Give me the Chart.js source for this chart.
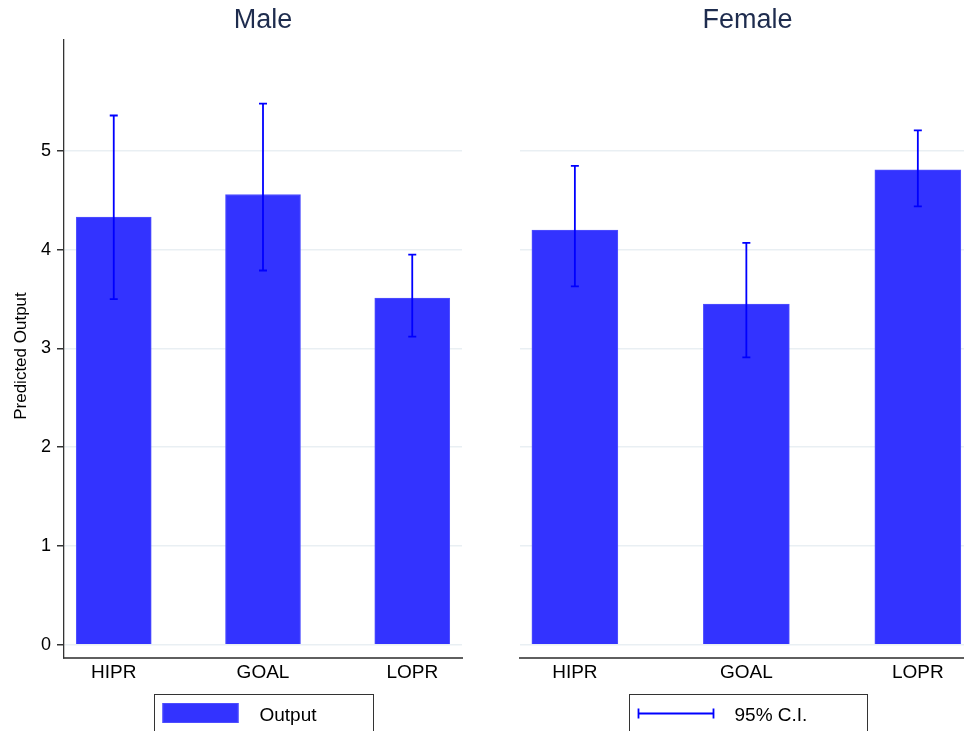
<!DOCTYPE html>
<html>
<head>
<meta charset="utf-8">
<script src="https://cdn.jsdelivr.net/npm/chart.js@4/dist/chart.umd.min.js"></script>
<style>
  html, body { margin: 0; padding: 0; background: #fff; }
  body { width: 964px; height: 731px; overflow: hidden; position: relative; }
  canvas { position: absolute; top: 0; }
  #male { left: 0; }
  #female { left: 490px; }
</style>
</head>
<body>
<canvas id="male" width="490" height="731"></canvas>
<canvas id="female" width="510" height="731"></canvas>
<script>
// Predicted output by condition, with 95% confidence intervals
const categories = ['HIPR', 'GOAL', 'LOPR'];
const maleOutput = [4.33, 4.56, 3.51];
const maleLower  = [3.50, 3.79, 3.12];
const maleUpper  = [5.36, 5.48, 3.95];
const femaleOutput = [4.20, 3.45, 4.81];
const femaleLower  = [3.63, 2.91, 4.44];
const femaleUpper  = [4.85, 4.07, 5.21];
const yTicks = [0, 1, 2, 3, 4, 5];
const yMin = -0.13, yMax = 6.125;

const FONT = "'Liberation Sans', Arial, Helvetica, sans-serif";
const BAR_FILL = '#3333ff';
const CI_COLOR = '#0000ff';
const GRID = '#e9eff3';

// Panel title, y-axis title, error bars and legend box
const panelExtras = {
  id: 'panelExtras',
  afterDatasetsDraw(chart, args, opts) {
    const ctx = chart.ctx;
    const y = chart.scales.y;
    const meta = chart.getDatasetMeta(0);
    ctx.save();
    ctx.strokeStyle = CI_COLOR;
    ctx.lineWidth = 1.8;
    meta.data.forEach((bar, i) => {
      const yl = y.getPixelForValue(opts.lower[i]);
      const yu = y.getPixelForValue(opts.upper[i]);
      const x = bar.x;
      ctx.beginPath();
      ctx.moveTo(x, yl); ctx.lineTo(x, yu);
      ctx.moveTo(x - 4, yl); ctx.lineTo(x + 4, yl);
      ctx.moveTo(x - 4, yu); ctx.lineTo(x + 4, yu);
      ctx.stroke();
    });
    ctx.restore();
  },
  afterDraw(chart, args, opts) {
    const ctx = chart.ctx;
    const area = chart.chartArea;
    const cx = (area.left + area.right) / 2;
    ctx.save();
    // panel title
    ctx.fillStyle = '#1e2c4e';
    ctx.font = '27px ' + FONT;
    ctx.textAlign = 'center';
    ctx.textBaseline = 'alphabetic';
    ctx.fillText(opts.title, cx, 28);

    // y-axis title
    if (opts.yTitle) {
      ctx.save();
      ctx.translate(26, 356);
      ctx.rotate(-Math.PI / 2);
      ctx.fillStyle = '#000';
      ctx.font = '17px ' + FONT;
      ctx.textAlign = 'center';
      ctx.fillText(opts.yTitle, 0, 0);
      ctx.restore();
    }

    // legend box
    const lw = opts.legendWidth;
    const lx = Math.round(cx - lw / 2) + 0.5;
    const ly = 694.5;
    ctx.strokeStyle = '#333';
    ctx.lineWidth = 1;
    ctx.strokeRect(lx, ly, lw, 60);
    ctx.font = '19px ' + FONT;
    ctx.fillStyle = '#000';
    ctx.textAlign = 'left';
    if (opts.legendKind === 'bar') {
      ctx.fillStyle = BAR_FILL;
      ctx.fillRect(lx + 8, 703, 76, 20);
      ctx.strokeStyle = '#4d4dff';
      ctx.strokeRect(lx + 8.5, 703.5, 75, 19);
      ctx.fillStyle = '#000';
      ctx.fillText(opts.legendText, lx + 105, 721);
    } else {
      ctx.strokeStyle = CI_COLOR;
      ctx.lineWidth = 1.8;
      ctx.beginPath();
      ctx.moveTo(lx + 9, 713.5); ctx.lineTo(lx + 84, 713.5);
      ctx.moveTo(lx + 9, 708.5); ctx.lineTo(lx + 9, 718.5);
      ctx.moveTo(lx + 84, 708.5); ctx.lineTo(lx + 84, 718.5);
      ctx.stroke();
      ctx.fillStyle = '#000';
      ctx.fillText(opts.legendText, lx + 105, 721);
    }
    ctx.restore();
  }
};

function makePanel(canvasId, values, lower, upper, cfg) {
  const points = values.map((v, i) => ({ x: i, y: v }));
  return new Chart(document.getElementById(canvasId), {
    type: 'bar',
    data: {
      datasets: [{
        label: cfg.legendText,
        data: points,
        backgroundColor: BAR_FILL,
        borderColor: '#5252ff',
        borderWidth: 1,
        barThickness: cfg.barWidth
      }]
    },
    options: {
      responsive: false,
      animation: false,
      devicePixelRatio: 1,
      layout: { padding: { top: 40, right: cfg.padRight, left: 0, bottom: 0 } },
      plugins: {
        legend: { display: false },
        tooltip: { enabled: false },
        panelExtras: {
          lower, upper,
          title: cfg.title,
          yTitle: cfg.yTitle,
          legendWidth: cfg.legendWidth,
          legendKind: cfg.legendKind,
          legendText: cfg.legendText
        }
      },
      scales: {
        x: {
          type: 'linear',
          offset: false,
          min: cfg.xMin,
          max: 7 / 3,
          afterBuildTicks: s => { s.ticks = categories.map((c, i) => ({ value: i })); },
          afterFit: s => { s.height = 73.5; },
          grid: { display: false, drawTicks: false, offset: false },
          border: { display: true, color: '#5f5f5f', width: 2 },
          ticks: {
            padding: 4,
            color: '#000',
            font: { family: FONT, size: 19 },
            callback: v => categories[v]
          }
        },
        y: {
          min: yMin,
          max: yMax,
          afterBuildTicks: s => { s.ticks = yTicks.map(v => ({ value: v })); },
          afterFit: s => { s.width = cfg.yWidth; },
          grid: {
            color: GRID,
            lineWidth: 1.5,
            drawTicks: cfg.showY,
            tickLength: 7,
            tickColor: '#333'
          },
          border: { display: cfg.showY, color: '#333', width: 1.3 },
          ticks: {
            display: cfg.showY,
            padding: 6,
            color: '#000',
            font: { family: FONT, size: 18 },
            callback: v => String(v)
          }
        }
      }
    },
    plugins: [panelExtras]
  });
}

makePanel('male', maleOutput, maleLower, maleUpper, {
  title: 'Male', yTitle: 'Predicted Output', showY: true, yWidth: 64,
  padRight: 28, xMin: -1 / 3, barWidth: 75,
  legendWidth: 219, legendKind: 'bar', legendText: 'Output'
});

makePanel('female', femaleOutput, femaleLower, femaleUpper, {
  title: 'Female', yTitle: null, showY: false, yWidth: 30,
  padRight: 25, xMin: -0.32, barWidth: 86,
  legendWidth: 238, legendKind: 'ci', legendText: '95% C.I.'
});
</script>
</body>
</html>
